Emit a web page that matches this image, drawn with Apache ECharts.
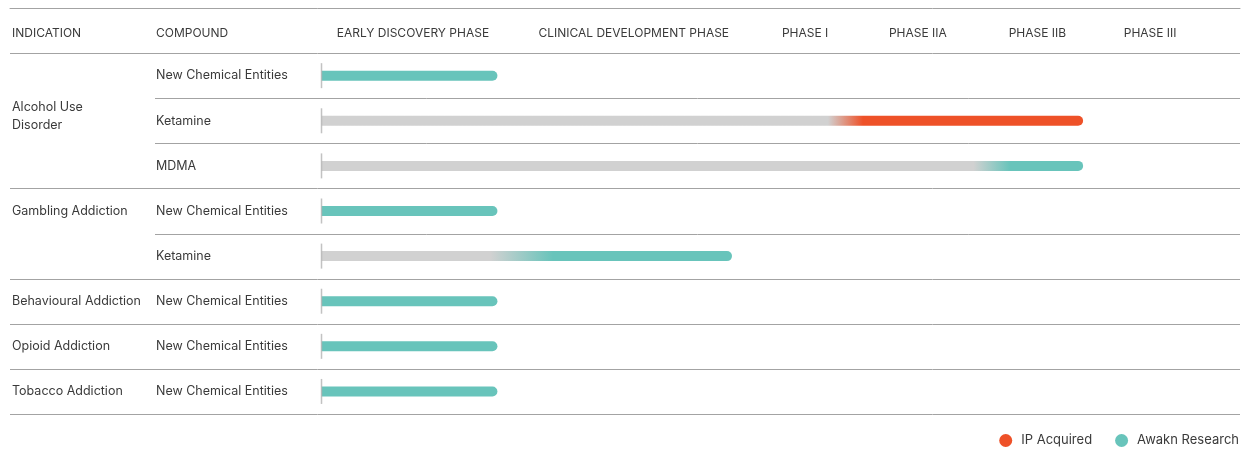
<!DOCTYPE html>
<html>
<head>
<meta charset="utf-8">
<script src="https://cdn.jsdelivr.net/npm/echarts@6/dist/echarts.min.js"></script>
<style>
	html, body { margin: 0; padding: 0; background: #fff; }
	#pipeline { width: 1244px; height: 449px; }
</style>
</head>
<body>
<div id="pipeline"></div>
<script>
	var rowKeys = ['header', 'aud-nce', 'aud-ket', 'aud-mdma', 'gam-nce', 'gam-ket', 'beh-nce', 'opi-nce', 'tob-nce'];
	var indications = ['INDICATION', '', 'Alcohol Use\nDisorder', '', 'Gambling Addiction', '', 'Behavioural Addiction', 'Opioid Addiction', 'Tobacco Addiction'];
	var compounds = ['COMPOUND', 'New Chemical Entities', 'Ketamine', 'MDMA', 'New Chemical Entities', 'Ketamine', 'New Chemical Entities', 'New Chemical Entities', 'New Chemical Entities'];
	// 1 = the indication group ends under this row (full width rule)
	var groupEnd = [1, 0, 0, 1, 0, 1, 1, 1, 1];

	var phaseNames = ['EARLY DISCOVERY PHASE', 'CLINICAL DEVELOPMENT PHASE', 'PHASE I', 'PHASE IIA', 'PHASE IIB', 'PHASE III'];
	var phasePos = [12, 41, 63.5, 78.3, 94, 108.8];

	// progress, 100 = end of phase IIB
	var progress = ['-', 23.1, 100, 100, 23.1, 53.9, 23.1, 23.1, 23.1];
	// grey part fades into the colour between these two points
	var fadeFrom = ['-', '-', 66.5, 85.6, '-', 22.2, '-', '-', '-'];
	var fadeTo = ['-', '-', 71.1, 90.4, '-', 30.4, '-', '-', '-'];
	var owner = ['', 'Awakn Research', 'IP Acquired', 'Awakn Research', 'Awakn Research', 'Awakn Research', 'Awakn Research', 'Awakn Research', 'Awakn Research'];

	var RED = '#ee5128', TEAL = '#68c4bb', GREY = '#d1d1d1', RULE = '#a3a3a3', TXT = '#3a3a3a';
	var FONT = 'Inter';

	function barItem(i, who) {
		if (owner[i] !== who) return '-';
		var c = who === 'IP Acquired' ? RED : TEAL;
		if (fadeFrom[i] === '-') {
			return { value: progress[i], itemStyle: { color: c } };
		}
		return {
			value: progress[i],
			itemStyle: {
				color: new echarts.graphic.LinearGradient(0, 0, 1, 0, [
					{ offset: 0, color: GREY },
					{ offset: fadeFrom[i] / progress[i], color: GREY },
					{ offset: fadeTo[i] / progress[i], color: c },
					{ offset: 1, color: c }
				])
			}
		};
	}

	function renderRule(params, api) {
		var idx = api.value(1);
		var c = api.coord([0, idx]);
		var h = api.size([0, 1])[1];
		var y = Math.round(c[1] + h / 2) + 0.5;
		var cs = params.coordSys;
		var x1 = api.value(2) ? cs.x : cs.x + 145;
		return {
			type: 'line',
			shape: { x1: x1, y1: y, x2: cs.x + cs.width, y2: y },
			style: { stroke: RULE, lineWidth: 1 }
		};
	}

	// header row titles are a bit smaller and lower
	function headerLabel(text, i) {
		return i === 0 ? '{h|' + text + '}' : text;
	}

	var ruleData = rowKeys.map(function (k, i) { return [0, i, groupEnd[i]]; });
	var tickData = [];
	rowKeys.forEach(function (k, i) { if (progress[i] !== '-') tickData.push([0, i]); });

	var myChart = echarts.init(document.getElementById('pipeline'));
	var option = {
		animation: false,
		textStyle: { fontFamily: FONT },
		grid: { left: 10, right: 4, top: 8, bottom: 35 },
		legend: {
			data: ['IP Acquired', 'Awakn Research'],
			right: 5,
			bottom: 2,
			padding: 0,
			icon: 'circle',
			itemWidth: 13,
			itemHeight: 13,
			itemGap: 23,
			textStyle: { fontFamily: FONT, fontSize: 13, color: TXT, padding: [0, 0, 0, 4] }
		},
		xAxis: {
			type: 'value',
			position: 'top',
			min: -40.9,
			max: 120.6,
			axisLine: { show: true, lineStyle: { color: RULE, width: 1 } },
			axisTick: { show: false },
			splitLine: { show: false },
			axisLabel: {
				inside: true,
				margin: 19,
				customValues: phasePos,
				fontFamily: FONT,
				fontSize: 12,
				color: TXT,
				formatter: function (v) {
					return phaseNames[phasePos.indexOf(v)];
				}
			}
		},
		yAxis: [
			{
				type: 'category',
				inverse: true,
				data: rowKeys,
				axisLine: { show: false },
				axisTick: { show: false },
				splitLine: { show: false },
				axisLabel: {
					inside: true,
					margin: 2,
					interval: 0,
					fontFamily: FONT,
					fontSize: 12.5,
					lineHeight: 18,
					color: TXT,
					formatter: function (v, i) {
						// the two-line label sits a little above its row
						if (indications[i].indexOf('\n') >= 0) return indications[i] + '\n{s|}';
						return headerLabel(indications[i], i);
					},
					rich: {
						s: { lineHeight: 10 },
						h: { fontSize: 12, fontFamily: FONT, color: TXT, padding: [6, 0, 0, 0] }
					}
				}
			},
			{
				type: 'category',
				inverse: true,
				position: 'left',
				offset: -145,
				data: rowKeys,
				axisLine: { show: false },
				axisTick: { show: false },
				splitLine: { show: false },
				axisLabel: {
					inside: true,
					margin: 1,
					interval: 0,
					fontFamily: FONT,
					fontSize: 12.5,
					color: TXT,
					formatter: function (v, i) { return headerLabel(compounds[i], i); },
					rich: {
						h: { fontSize: 12, fontFamily: FONT, color: TXT, padding: [6, 0, 0, 0] }
					}
				}
			}
		],
		series: [
			{
				type: 'custom',
				renderItem: renderRule,
				encode: { x: 0, y: 1 },
				data: ruleData,
				silent: true,
				z: 1
			},
			{
				name: 'IP Acquired',
				type: 'bar',
				barWidth: 10,
				barGap: '-100%',
				itemStyle: { color: RED, borderRadius: [0, 5, 5, 0] },
				data: rowKeys.map(function (k, i) { return barItem(i, 'IP Acquired'); }),
				z: 2
			},
			{
				name: 'Awakn Research',
				type: 'bar',
				barWidth: 10,
				barGap: '-100%',
				itemStyle: { color: TEAL, borderRadius: [0, 5, 5, 0] },
				data: rowKeys.map(function (k, i) { return barItem(i, 'Awakn Research'); }),
				z: 2
			},
			{
				type: 'scatter',
				symbol: 'rect',
				symbolSize: [1.5, 25],
				itemStyle: { color: '#b3b3b3' },
				data: tickData,
				silent: true,
				z: 3
			}
		]
	};
	myChart.setOption(option);
</script>
</body>
</html>
